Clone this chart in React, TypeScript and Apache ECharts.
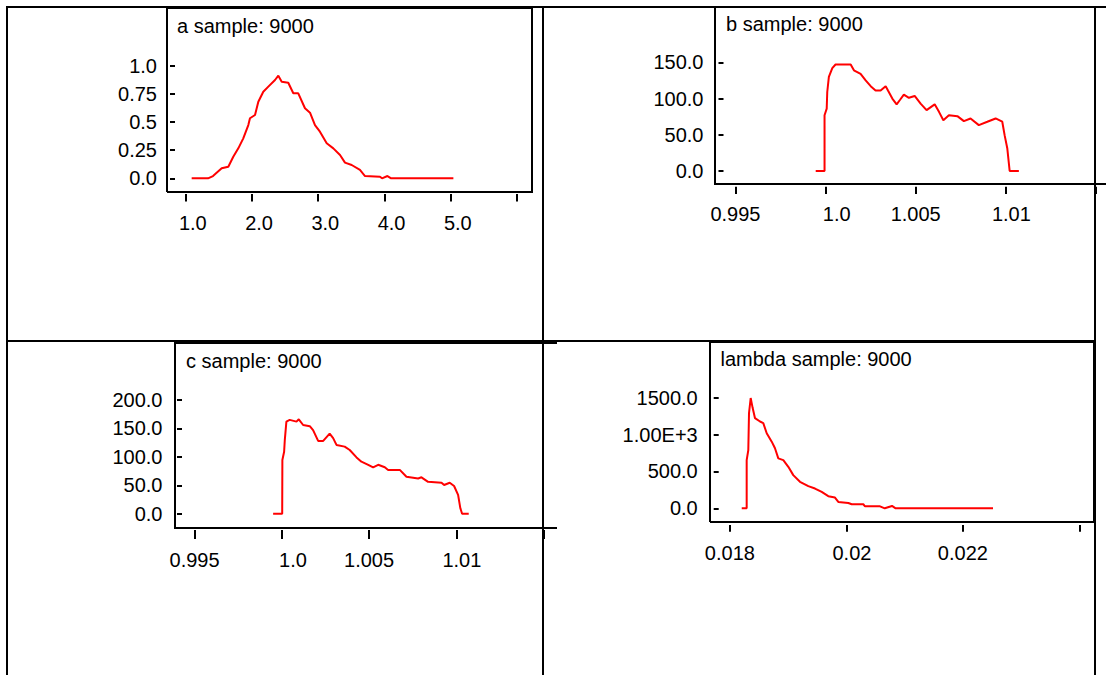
import { useEffect, useRef } from 'react';
import * as echarts from 'echarts';

const FONT = "'Liberation Sans', Arial, Helvetica, sans-serif";

// ---- panel a ----
const aTitle = 'a sample: 9000';
const aXTicks = ['1.0', '2.0', '3.0', '4.0', '5.0', ''];
const aYTicks = ['0.0', '0.25', '0.5', '0.75', '1.0'];
const aX = [1.09, 1.337, 1.412, 1.543, 1.643, 1.718, 1.794, 1.869, 1.945, 1.97, 2.046, 2.096, 2.171, 2.247, 2.348, 2.398, 2.449, 2.548, 2.624, 2.699, 2.8, 2.876, 2.951, 3.026, 3.128, 3.228, 3.329, 3.404, 3.505, 3.63, 3.706, 3.932, 3.963, 4.045, 4.1, 5.04];
const aY = [0, 0, 0.02, 0.089, 0.103, 0.192, 0.266, 0.355, 0.473, 0.533, 0.562, 0.68, 0.769, 0.814, 0.873, 0.911, 0.858, 0.849, 0.755, 0.755, 0.622, 0.583, 0.473, 0.414, 0.311, 0.266, 0.207, 0.139, 0.118, 0.074, 0.02, 0.014, 0, 0.02, 0, 0];

// ---- panel b ----
const bTitle = 'b sample: 9000';
const bXTicks = ['0.995', '1.0', '1.005', '1.01', ''];
const bYTicks = ['0.0', '50.0', '100.0', '150.0'];
const bX = [0.99945, 0.99994, 0.99994, 1.00006, 1.00009, 1.00018, 1.00037, 1.00055, 1.00139, 1.00157, 1.00194, 1.00222, 1.0025, 1.00277, 1.00305, 1.00333, 1.00346, 1.0037, 1.00394, 1.00412, 1.00434, 1.00462, 1.00494, 1.00527, 1.0056, 1.00605, 1.00629, 1.00653, 1.00684, 1.00731, 1.00767, 1.00804, 1.0085, 1.00897, 1.00943, 1.0098, 1.00993, 1.01008, 1.01021, 1.01072];
const bY = [0, 0, 77, 86, 109, 130, 142, 147, 147, 139, 134, 125, 117, 111, 111, 117, 111, 100, 92, 98, 105.5, 101, 103.6, 93, 84, 92, 81.6, 70, 77, 75.7, 68.8, 72.5, 63.3, 67.9, 72.5, 68, 49.5, 31, 0, 0];

// ---- panel c ----
const cTitle = 'c sample: 9000';
const cXTicks = ['0.995', '1.0', '1.005', '1.01', ''];
const cYTicks = ['0.0', '50.0', '100.0', '150.0', '200.0'];
const cX = [0.9995, 1.00002, 1.00003, 1.00013, 1.00017, 1.00026, 1.00045, 1.00084, 1.00097, 1.00122, 1.0016, 1.00179, 1.00208, 1.00237, 1.00274, 1.00294, 1.00313, 1.0036, 1.00389, 1.00428, 1.00456, 1.00495, 1.00523, 1.00552, 1.0059, 1.00609, 1.00676, 1.00714, 1.00781, 1.008, 1.00838, 1.00915, 1.0093, 1.00962, 1.00987, 1.0101, 1.01023, 1.01033, 1.01071];
const cY = [0, 0, 94.5, 109, 130, 162, 165, 162, 166, 156, 154, 147, 128, 128, 141, 133, 121, 118, 112, 99, 91.5, 86, 81.6, 86, 81.6, 77, 77, 65, 62, 64, 56, 54.5, 50.5, 54.5, 48.7, 33, 9.5, 0, 0];

// ---- panel lambda ----
const dTitle = 'lambda sample: 9000';
const dXTicks = ['0.018', '0.02', '0.022', ''];
const dYTicks = ['0.0', '500.0', '1.00E+3', '1500.0'];
const dX = [0.018203, 0.018288, 0.018288, 0.018316, 0.018328, 0.018357, 0.018374, 0.018391, 0.018431, 0.018517, 0.018573, 0.018632, 0.018718, 0.018774, 0.018831, 0.018917, 0.019003, 0.019088, 0.019203, 0.019346, 0.019461, 0.019576, 0.019689, 0.019804, 0.019861, 0.020033, 0.020091, 0.02029, 0.02032, 0.020577, 0.020659, 0.020783, 0.020845, 0.022517];
const dY = [0, 0, 654, 790, 1290, 1496, 1427, 1359, 1222, 1177, 1155, 1018, 904, 814, 677, 654, 563, 450, 359, 300, 268, 222, 164, 146, 86, 72, 55, 55, 27, 27, 0, 32, 0, 0];

const zip = (xs: number[], ys: number[]) => xs.map((x, i) => [x, ys[i]]);

const panels = [
  { title: aTitle, tx: 177, ty: 16, left: 185.7, top: 65.7, width: 331.3, height: 112.6, xMin: 1, xMax: 6, xInt: 1, yMax: 1, yInt: 0.25, xLabels: aXTicks, yLabels: aYTicks, data: zip(aX, aY), xOff: 15.7, tickLen: 7.5, xMargin: 18.5, xShift: 21, yOff: 10.7, yMargin: 18 },
  { title: bTitle, tx: 726, ty: 14, left: 735.5, top: 62.3, width: 360.5, height: 108.7, xMin: 0.995, xMax: 1.015, xInt: 0.005, yMax: 150, yInt: 50, xLabels: bXTicks, yLabels: bYTicks, data: zip(bX, bY), xOff: 15.7, tickLen: 7.3, xMargin: 17.7, xShift: 25, yOff: 12, yMargin: 20 },
  { title: cTitle, tx: 186, ty: 351, left: 194.6, top: 400, width: 349, height: 113.7, xMin: 0.995, xMax: 1.015, xInt: 0.005, yMax: 200, yInt: 50, xLabels: cXTicks, yLabels: cYTicks, data: zip(cX, cY), xOff: 16.3, tickLen: 9, xMargin: 20, xShift: 25, yOff: 12.6, yMargin: 19.5 },
  { title: dTitle, tx: 720.5, ty: 349, left: 729.9, top: 397.7, width: 349.5, height: 110.6, xMin: 0.018, xMax: 0.024, xInt: 0.002, yMax: 1500, yInt: 500, xLabels: dXTicks, yLabels: dYTicks, data: zip(dX, dY), xOff: 16.7, tickLen: 6.7, xMargin: 17.5, xShift: 25, yOff: 11.2, yMargin: 21 },
];

const K = '#000';
const ln = (x1: number, y1: number, x2: number, y2: number) => ({
  type: 'line', silent: true, shape: { x1, y1, x2, y2 }, style: { stroke: K, lineWidth: 2 },
});
const pl = (points: number[][]) => ({
  type: 'polyline', silent: true, shape: { points }, style: { stroke: K, lineWidth: 2, fill: 'none' },
});

function buildOption() {
  const labelStyle = { color: '#000', fontSize: 20, fontFamily: FONT };
  return {
    animation: false,
    backgroundColor: '#fff',
    title: panels.map((p) => ({
      text: p.title, left: p.tx, top: p.ty, padding: 0,
      textStyle: { ...labelStyle, fontWeight: 'normal' },
    })),
    grid: panels.map((p) => ({
      left: p.left, top: p.top, width: p.width, height: p.height,
      containLabel: false, outerBoundsMode: 'none', show: false,
    })),
    xAxis: panels.map((p, i) => ({
      type: 'value', gridIndex: i, min: p.xMin, max: p.xMax, interval: p.xInt,
      position: 'bottom', offset: p.xOff,
      axisLine: { show: false, onZero: false },
      axisTick: { show: true, length: p.tickLen, lineStyle: { color: K, width: 2 } },
      splitLine: { show: false },
      axisLabel: {
        ...labelStyle, margin: p.xMargin, align: 'right', padding: [0, -p.xShift, 0, 0],
        showMinLabel: true, showMaxLabel: true,
        formatter: (_v: number, idx: number) => p.xLabels[idx] ?? '',
      },
    })),
    yAxis: panels.map((p, i) => ({
      type: 'value', gridIndex: i, min: 0, max: p.yMax, interval: p.yInt,
      position: 'left', offset: p.yOff,
      axisLine: { show: false, onZero: false },
      axisTick: { show: true, length: 5, lineStyle: { color: K, width: 2 } },
      splitLine: { show: false },
      axisLabel: {
        ...labelStyle, margin: p.yMargin,
        showMinLabel: true, showMaxLabel: true,
        formatter: (_v: number, idx: number) => p.yLabels[idx] ?? '',
      },
    })),
    series: panels.map((p, i) => ({
      type: 'line', xAxisIndex: i, yAxisIndex: i, data: p.data,
      symbol: 'none', showSymbol: false, silent: true, clip: false,
      lineStyle: { color: '#ff0000', width: 2 },
    })),
    graphic: {
      elements: [
        // table frame
        ln(6, 7, 1106, 7),
        ln(7, 7, 7, 675),
        ln(543, 7, 543, 675),
        ln(1095, 7, 1095, 675),
        ln(6, 341, 1095, 341),
        // panel frames
        pl([[167, 192], [167, 8], [532, 8], [532, 192], [167, 192]]),
        pl([[715, 7], [715, 184], [1106, 184]]),
        pl([[557, 343], [175, 343], [175, 528], [557, 528]]),
        pl([[710, 522], [710, 342], [1094, 342], [1094, 522], [710, 522]]),
      ],
    },
  };
}

export default function App() {
  const ref = useRef<HTMLDivElement>(null);
  useEffect(() => {
    const chart = echarts.init(ref.current!, null, { renderer: 'svg' });
    chart.setOption(buildOption() as any);
    return () => chart.dispose();
  }, []);
  return (
    <div
      ref={ref}
      style={{ position: 'absolute', left: 0, top: 0, width: 1106, height: 675, background: '#fff' }}
    />
  );
}
